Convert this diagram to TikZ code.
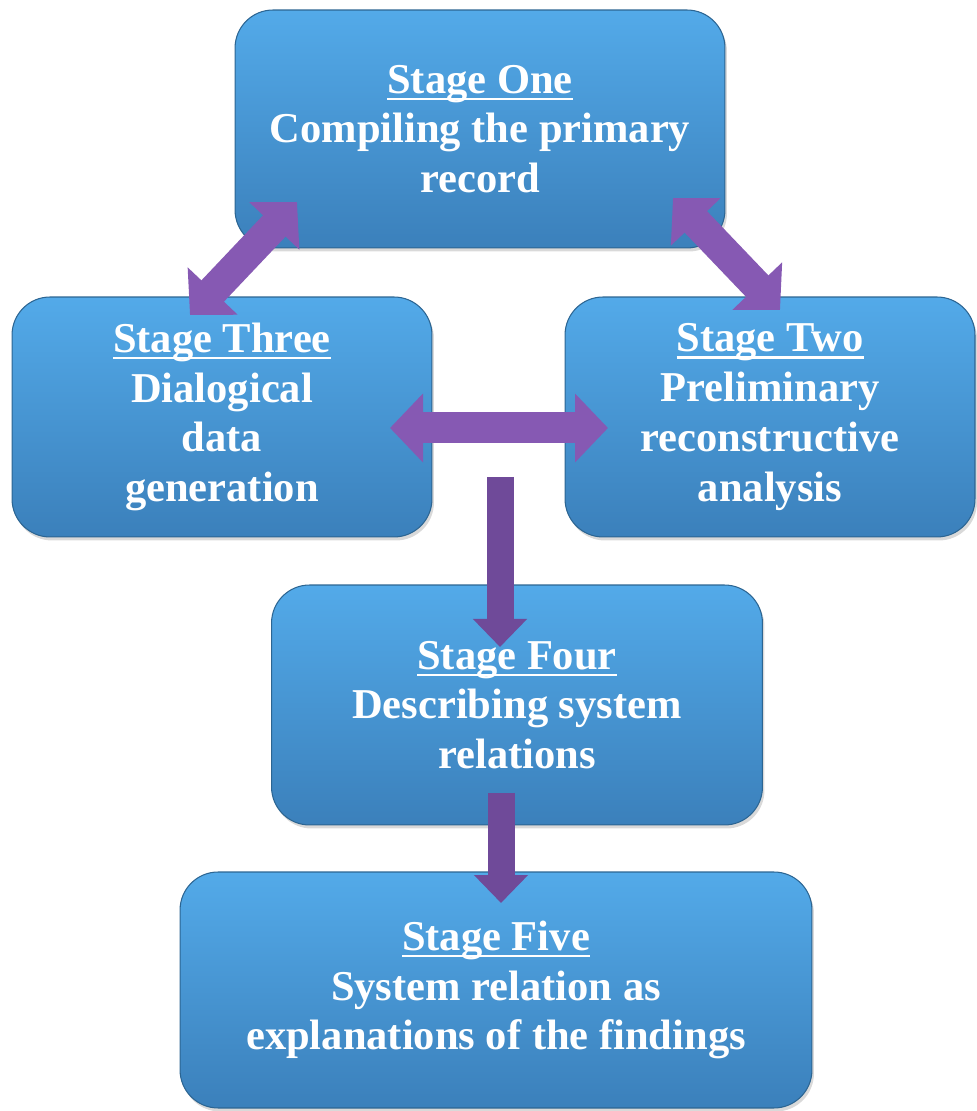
\documentclass[tikz,border=0pt]{standalone}
\usepackage{fontspec}
\setmainfont{Liberation Serif}
\usetikzlibrary{arrows.meta,shadows}
\definecolor{boxtop}{HTML}{53AAE9}
\definecolor{boxbottom}{HTML}{3B80BB}
\definecolor{boxline}{HTML}{2C6592}
\definecolor{arrowpurple}{HTML}{8659B3}
\definecolor{arrowdark}{HTML}{6F4A99}
\newsavebox{\headbox}
\newcommand{\stagehead}[1]{\sbox{\headbox}{#1}\usebox{\headbox}\llap{\rule[-4pt]{\wd\headbox}{1.5pt}}}
\tikzset{
  stagebox/.style={rectangle, rounded corners=0.76cm, draw=boxline, line width=0.6pt,
    top color=boxtop, bottom color=boxbottom, text=white, align=center,
    font=\bfseries\fontsize{24.2}{28.3}\selectfont,
    drop shadow={opacity=0.3, shadow xshift=0.04cm, shadow yshift=-0.07cm}},
  twoway/.style={draw=arrowpurple, line width=0.62cm,
    {Triangle[width=1.34cm,length=0.66cm]}-{Triangle[width=1.34cm,length=0.66cm]}},
  oneway/.style={draw=arrowdark, line width=0.54cm, -{Triangle[width=1.05cm,length=0.56cm]}},
}
\begin{document}
\begin{tikzpicture}[x=0.02cm,y=0.02cm]
\useasboundingbox (0,0) rectangle (976,1111);
% the five stages
\node[stagebox, minimum width=9.8cm, minimum height=4.76cm] (one) at (480,982)
  {\stagehead{Stage One}\\Compiling the primary\\record};
\node[stagebox, minimum width=8.4cm, minimum height=4.8cm] (three) at (222,694)
  {\stagehead{Stage Three}\\Dialogical\\data\\generation};
\node[stagebox, minimum width=8.2cm, minimum height=4.8cm] (two) at (770,694)
  {\stagehead{Stage Two}\\Preliminary\\reconstructive\\analysis};
\node[stagebox, minimum width=9.82cm, minimum height=4.8cm] (four) at (517,406)
  {\stagehead{Stage Four}\\Describing system\\relations};
\node[stagebox, minimum width=12.64cm, minimum height=4.72cm] (five) at (496,121)
  {\stagehead{Stage Five}\\System relation as\\explanations of the findings};
% arrow ends
\coordinate (one-sw) at (297,909);
\coordinate (three-ne) at (190,796);
\coordinate (one-se) at (673,913);
\coordinate (two-nw) at (780,801);
\coordinate (three-e) at (390,683);
\coordinate (two-w) at (608,683);
\coordinate (mid-top) at (500,634);
\coordinate (four-n) at (500,464);
\coordinate (four-s) at (501,318);
\coordinate (five-n) at (501,208);
\draw[twoway] (three-ne) -- (one-sw);
\draw[twoway] (one-se) -- (two-nw);
\draw[twoway] (three-e) -- (two-w);
\draw[oneway] (mid-top) -- (four-n);
\draw[oneway] (four-s) -- (five-n);
\end{tikzpicture}
\end{document}
